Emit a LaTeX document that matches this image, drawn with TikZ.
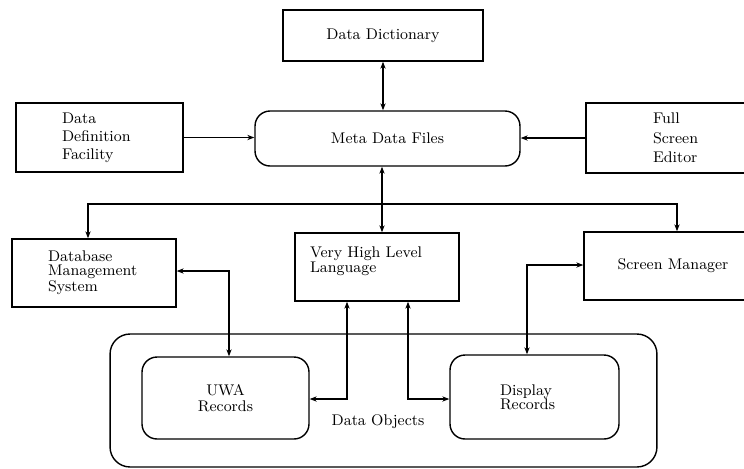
\documentclass[tikz,border=0pt]{standalone}
\usepackage{tikz}
\usetikzlibrary{arrows.meta}

\tikzset{
    blk/.style={draw, thick, inner sep=2pt, font=\fontsize{8.8}{10}\selectfont},
    rblk/.style={blk, rounded corners=0.3cm},
}

\begin{document}
\begin{tikzpicture}[x=0.02cm, y=-0.02cm, >={Stealth[length=4pt,width=3pt]}]
        \useasboundingbox (0,0) rectangle (744,468);
        \clip (0,0) rectangle (744,468);
        % top row
        \node [blk, minimum width=4cm, minimum height=1.02cm] (dict) at (383,35.5)
            {Data Dictionary};
        \node [rblk, minimum width=5.3cm, minimum height=1.1cm] (meta) at (387.5,138.5)
            {Meta Data Files};
        \node [blk, minimum width=3.34cm, minimum height=1.38cm, text width=1.5cm,
            align=left, font=\fontsize{8.8}{10.2}\selectfont] (ddf) at (99.5,137.5)
            {Data\\Definition\\Facility};
        \node [blk, minimum width=4.08cm, minimum height=1.4cm, text width=1.4cm,
            align=left, font=\fontsize{8.8}{11}\selectfont] (fse) at (688,138)
            {Full\\Screen\\Editor};
        % middle row
        \node [blk, minimum width=3.28cm, minimum height=1.36cm, text width=1.84cm,
            align=left, font=\fontsize{8.8}{8}\selectfont] (dbms) at (94,273)
            {Database\\Management\\System};
        \node [blk, minimum width=3.28cm, minimum height=1.36cm, text width=2.68cm,
            align=left, font=\fontsize{8.8}{8.5}\selectfont] (vhll) at (377,267)
            {Very High Level\\Language\\\mbox{}};
        \node [blk, minimum width=3.56cm, minimum height=1.36cm] (scr) at (673,266)
            {Screen Manager};
        % data objects
        \node [draw, thick, rounded corners=0.4cm, minimum width=10.94cm,
            minimum height=2.66cm] (objs) at (383.5,400.5) {};
        \node [font=\fontsize{8.8}{10}\selectfont] (objlbl) at (378,422) {Data Objects};
        \node [rblk, minimum width=3.34cm, minimum height=1.64cm, align=center,
            font=\fontsize{8.8}{9}\selectfont] (uwa) at (225.5,398)
            {UWA\\Records};
        \node [rblk, minimum width=3.38cm, minimum height=1.68cm, text width=1.38cm,
            align=left, font=\fontsize{8.8}{8}\selectfont] (disp) at (534.5,397)
            {Display\\Records};

        \coordinate (bus) at (382,204);
        \coordinate (busL) at (88,204);
        \coordinate (busR) at (677,204);
        \coordinate (k1) at (229,271);
        \coordinate (k2) at (347,399);
        \coordinate (k3) at (408,399);
        \coordinate (k4) at (527,265);

        \draw [thick, <->] (dict.south) -- (dict.south |- meta.north);
        \draw [thick, ->] (ddf.east) -- (ddf.east -| meta.west);
        \draw [thick, ->] (fse.west) -- (fse.west -| meta.east);
        \draw [thick, <->] (meta.south -| bus) -- (vhll.north -| bus);
        \draw [thick, ->] (bus) -- (busL) -- (busL |- dbms.north);
        \draw [thick, ->] (bus) -- (busR) -- (busR |- scr.north);
        \draw [thick, <->] (k1 -| dbms.east) -| (k1 |- uwa.north);
        \draw [thick, <->] (k2 |- vhll.south) |- (k2 -| uwa.east);
        \draw [thick, <->] (k3 |- vhll.south) |- (k3 -| disp.west);
        \draw [thick, <->] (k4 -| scr.west) -| (k4 |- disp.north);

    \end{tikzpicture}
\end{document}
